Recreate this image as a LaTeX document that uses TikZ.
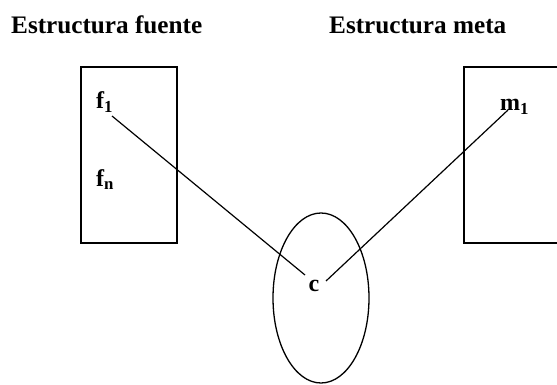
\documentclass[tikz,border=0pt]{standalone}
\usepackage{fontspec}
\setmainfont{Liberation Serif}
\begin{document}
\begin{tikzpicture}[x=1pt,y=-1pt,
  title/.style={font=\fontsize{25.2}{28}\selectfont\bfseries,inner sep=0pt,anchor=base west},
  lab/.style={font=\fontsize{24}{27}\selectfont\bfseries,inner sep=0pt,anchor=base west},
  shapeline/.style={line width=1.3pt},
  link/.style={line width=1.2pt}]
\useasboundingbox (0,0) rectangle (557,385);
\clip (0,0) rectangle (557,385);
\node[title] (t1) at (11,34) {Estructura fuente};
\node[title] (t2) at (329,34) {Estructura meta};
\draw[shapeline] (81,67) rectangle (177,243);
\draw[shapeline] (464,67) rectangle (565,243);
\draw[shapeline] (321,298) ellipse [x radius=48, y radius=85];
\node[lab] (f1) at (96,109) {f$_{\mathbf{1}}$};
\node[lab] (fn) at (96,186) {f$_{\mathbf{n}}$};
\node[lab] (m1) at (500,111) {m$_{\mathbf{1}}$};
\node[lab,anchor=base] (c) at (314,291) {c};
\coordinate (f1e) at (112,116);
\coordinate (m1e) at (508,110);
\coordinate (cl) at (305,275);
\coordinate (cr) at (326,281);
\draw[link] (f1e) -- (cl);
\draw[link] (m1e) -- (cr);
\end{tikzpicture}
\end{document}
